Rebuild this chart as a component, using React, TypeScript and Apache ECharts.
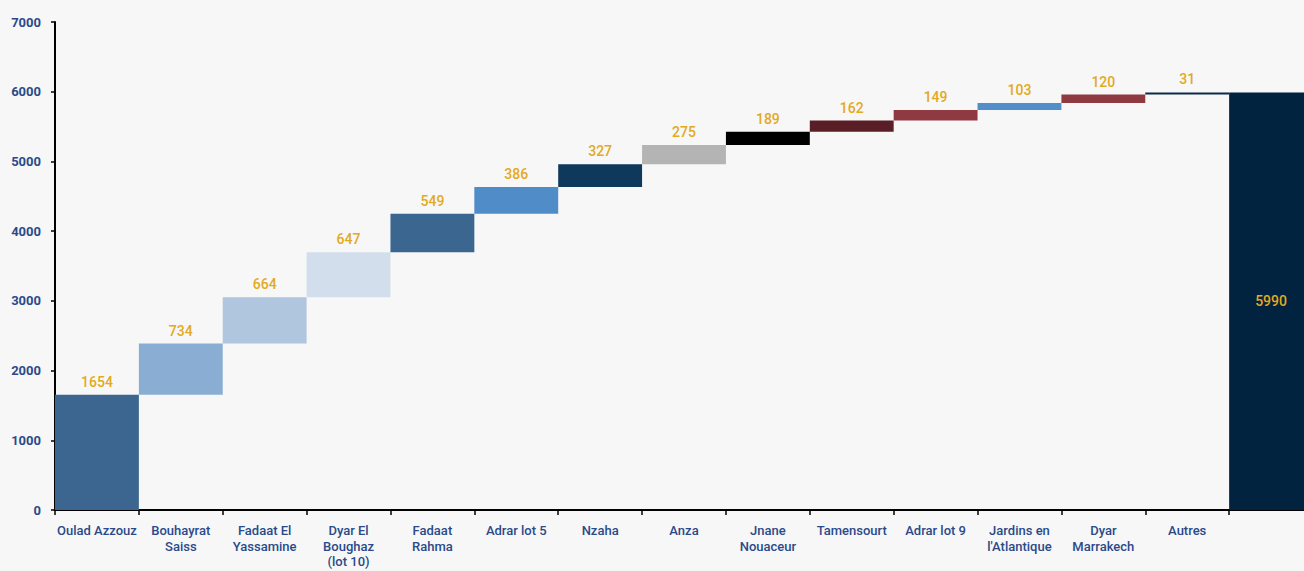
import React, { useEffect, useRef } from "react";
import * as echarts from "echarts";

const categories = [
  "Oulad Azzouz",
  "Bouhayrat\nSaiss",
  "Fadaat El\nYassamine",
  "Dyar El\nBoughaz\n(lot 10)",
  "Fadaat\nRahma",
  "Adrar lot 5",
  "Nzaha",
  "Anza",
  "Jnane\nNouaceur",
  "Tamensourt",
  "Adrar lot 9",
  "Jardins en\nl'Atlantique",
  "Dyar\nMarrakech",
  "Autres",
  "",
];
const increments = [1654, 734, 664, 647, 549, 386, 327, 275, 189, 162, 149, 103, 120, 31];
const total = 5990;
const barColors = [
  "#3c668f",
  "#8aaed3",
  "#b0c5de",
  "#d2deec",
  "#3b6690",
  "#508cc7",
  "#0f385d",
  "#b3b4b3",
  "#000000",
  "#5a1e26",
  "#8f3940",
  "#528ec9",
  "#8f3940",
  "#0d2a47",
  "#02233f",
];
const yTicks = { min: 0, max: 7000, interval: 1000 };

export default function App() {
  const ref = useRef<HTMLDivElement>(null);
  useEffect(() => {
    if (!ref.current) return;
    const chart = echarts.init(ref.current, undefined, { renderer: "svg" });
    const bases: number[] = [];
    let acc = 0;
    increments.forEach((v) => {
      bases.push(acc);
      acc += v;
    });
    bases.push(0);
    const values = [...increments, total];
    const font = "Roboto, 'DejaVu Sans', sans-serif";
    chart.setOption({
      animation: false,
      backgroundColor: "#f7f7f7",
      grid: {
        left: 55,
        top: 22,
        width: 1258,
        height: 488,
        containLabel: false,
        outerBoundsMode: "none",
      },
      xAxis: {
        type: "category",
        data: categories,
        axisLine: { lineStyle: { color: "#000", width: 2 } },
        axisTick: { show: true, length: 5, lineStyle: { color: "#000", width: 1.5 }, interval: 0 },
        axisLabel: {
          interval: 0,
          color: "#2a4a8a",
          fontFamily: font,
          fontSize: 13,
          fontWeight: 500,
          lineHeight: 15.5,
          margin: 13,
        },
      },
      yAxis: {
        type: "value",
        min: yTicks.min,
        max: yTicks.max,
        interval: yTicks.interval,
        splitLine: { show: false },
        axisLine: { show: true, lineStyle: { color: "#000", width: 2 } },
        axisTick: { show: true, length: 4, lineStyle: { color: "#000", width: 1.5 } },
        axisLabel: {
          color: "#2a4a8a",
          fontFamily: font,
          fontSize: 13,
          fontWeight: "bold",
          margin: 14,
          formatter: (v: number) => String(v),
        },
      },
      series: [
        {
          type: "bar",
          stack: "w",
          data: bases,
          itemStyle: { color: "transparent" },
          barWidth: "100%",
          silent: true,
        },
        {
          type: "bar",
          stack: "w",
          barWidth: "100%",
          data: values.map((v, i) => ({
            value: v,
            itemStyle: { color: barColors[i] },
            label:
              i === values.length - 1
                ? { position: "inside" }
                : { position: "top" },
          })),
          label: {
            show: true,
            color: "#e3a921",
            fontFamily: font,
            fontSize: 14,
            fontWeight: 500,
            distance: 6,
          },
        },
      ],
    });
    return () => chart.dispose();
  }, []);
  return (
    <div
      ref={ref}
      style={{ position: "fixed", left: 0, top: 0, width: 1304, height: 571 }}
    />
  );
}
